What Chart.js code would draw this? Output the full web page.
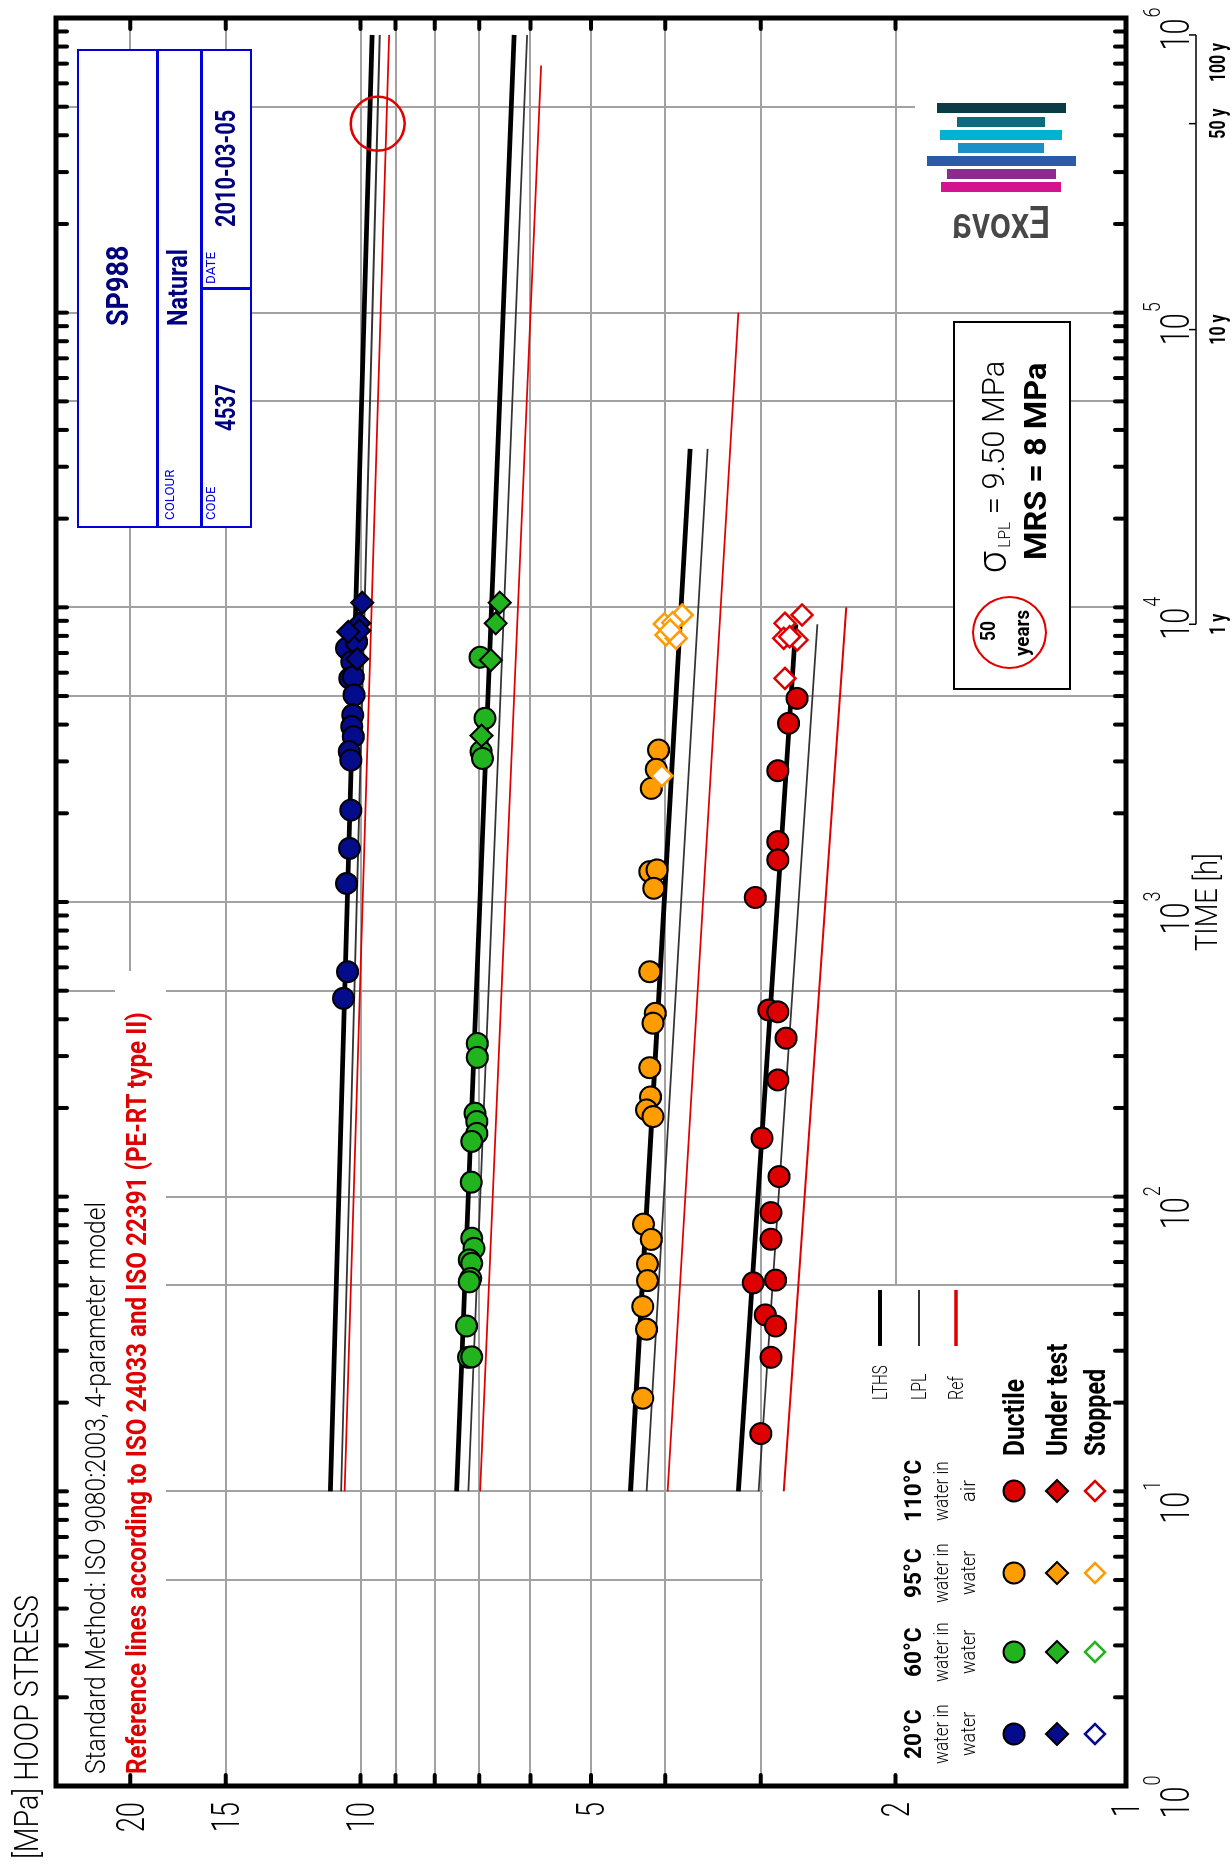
<!DOCTYPE html>
<html><head><meta charset="utf-8">
<script src="https://cdn.jsdelivr.net/npm/chart.js@4.4.1/dist/chart.umd.min.js"></script>
<style>
html,body{margin:0;padding:0;background:#fff;}
body{width:1232px;height:1866px;overflow:hidden;position:relative;font-family:Roboto,"Liberation Sans",sans-serif;}
#land{position:absolute;left:-317px;top:317px;width:1866px;height:1232px;transform:rotate(-90deg);transform-origin:50% 50%;}
#land canvas{position:absolute;left:0;top:0;}
.t{position:absolute;white-space:nowrap;line-height:1;}
.t span.in{display:inline-block;transform-origin:0 50%;}
.bx{position:absolute;box-sizing:border-box;background:#fff;}
.ln{position:absolute;}
</style></head>
<body>
<div id="land">
  <canvas id="c" width="1866" height="1232" style="width:1866px;height:1232px"></canvas>
  <div id="ov"></div>
</div>
<div id="logo"></div>
<script>
// ================= DATA =================
const temperatures = ['20°C','60°C','95°C','110°C'];
// 20 °C
const t20Ductile = [7260,7640,6540,5740,5810,5040,4310,3940,3640,3240,3030,2050,1520,1156,580,471];
const s20Ductile = [10.43,10.12,10.27,10.33,10.22,10.20,10.24,10.27,10.22,10.35,10.30,10.30,10.34,10.43,10.40,10.53];
const t20Under = [10370,8830,8340,8260,6680];
const s20Under = [9.95,10.04,10.04,10.38,10.10];
// 60 °C
const t60Ductile = [6770,4200,3240,3070,331,297,192,180,164,154,112,72.3,66.8,61.0,59.4,52.8,51.4,36.4,28.5,28.6];
const s60Ductile = [6.98,6.88,6.96,6.93,7.04,7.04,7.09,7.05,7.05,7.16,7.17,7.16,7.11,7.21,7.16,7.18,7.21,7.27,7.23,7.16];
const t60Under = [10370,8830,6620,3670];
const s60Under = [6.58,6.66,6.76,6.95];
// 95 °C
const t95Ductile = [3280,2820,2430,1268,1285,1113,580,419,388,274,218,197,187,80.7,71.6,59.1,51.9,42.4,35.5,20.7];
const s95Ductile = [4.08,4.11,4.17,4.19,4.10,4.14,4.19,4.12,4.15,4.19,4.18,4.23,4.15,4.27,4.17,4.22,4.22,4.28,4.23,4.28];
const t95Stopped = [9420,8780,8870,8060,7850,8370,2680];
const s95Stopped = [3.80,4.01,3.91,3.99,3.87,3.94,4.04];
// 110 °C
const t110Ductile = [4910,4040,2790,1603,1390,1036,430,424,345,249,158,117,88.3,71.7,51.0,52.1,39.7,36.4,28.5,15.7];
const s110Ductile = [2.69,2.76,2.85,2.85,2.85,3.05,2.93,2.85,2.78,2.85,2.99,2.84,2.91,2.91,3.07,2.87,2.96,2.87,2.91,3.00];
const t110Stopped = [8830,9420,7750,7850,7950,5740];
const s110Stopped = [2.79,2.65,2.69,2.80,2.75,2.79];
// Regression lines (end points)
const lthsT20=[10,876000], lthsS20=[10.95,9.66];
const lplT20=[10,876000],  lplS20=[10.60,9.44];
const refT20=[10,876000],  refS20=[10.49,9.18];
const lthsT60=[10,876000], lthsS60=[7.49,6.30];
const lplT60=[10,876000],  lplS60=[7.23,6.06];
const refT60=[10,690000],  refS60=[6.98,5.81];
const lthsT95=[10,34500],  lthsS95=[4.44,3.71];
const lplT95=[10,34500],   lplS95=[4.23,3.52];
const refT95=[10,100000],  refS95=[3.97,3.21];
const lthsT110=[10,8760],  lthsS110=[3.21,2.70];
const lplT110=[10,8760],   lplS110=[3.02,2.53];
const refT110=[10,10000],  refS110=[2.80,2.32];
// Axes
const timeGrid = [5,10,50,100,500,1000,5000,10000,50000,100000,500000];
const stressGrid = [2,3,4,5,6,7,8,9,10,15,20];
const stressTicks = [2,3,4,5,6,7,8,9,10,15,20];
const stressLabels = [1,2,5,10,15,20];
const timeExponents = [0,1,2,3,4,5,6];
const yearHours = [8760,87600,438000,876000];
const yearLabels = ['1 y','10 y','50 y','100 y'];
const lpl50Time = 438000, lpl50Stress = 9.50;

// ================= STYLE =================
const C_BLUE='#050c8c', C_GREEN='#22b41e', C_ORANGE='#ff9c00', C_RED='#dc0000';
const GRID='#a2a2a2';
const FONT='Roboto,"Liberation Sans",sans-serif';

function pts(T,S){return T.map((t,i)=>({x:t,y:S[i]}));}
function lineDs(T,S,color,w){return {type:'line',data:pts(T,S),borderColor:color,borderWidth:w,pointRadius:0,fill:false,tension:0,order:10};}
function circDs(T,S,fill){return {type:'scatter',data:pts(T,S),pointStyle:'circle',pointRadius:10.5,backgroundColor:fill,borderColor:'#000',borderWidth:2,order:2};}
function diaDs(T,S,fill){return {type:'scatter',data:pts(T,S),pointStyle:'rectRot',pointRadius:11,backgroundColor:fill,borderColor:'#000',borderWidth:2,order:1};}
function openDs(T,S,col){return {type:'scatter',data:pts(T,S),pointStyle:'rectRot',pointRadius:10.5,backgroundColor:'#fff',borderColor:col,borderWidth:2.5,order:0};}

const datasets=[
  lineDs(refT20,refS20,'#e00000',1.8), lineDs(lplT20,lplS20,'#333',1.8), lineDs(lthsT20,lthsS20,'#000',4.8),
  lineDs(refT60,refS60,'#e00000',1.8), lineDs(lplT60,lplS60,'#333',1.8), lineDs(lthsT60,lthsS60,'#000',4.8),
  lineDs(refT95,refS95,'#e00000',1.8), lineDs(lplT95,lplS95,'#333',1.8), lineDs(lthsT95,lthsS95,'#000',4.8),
  lineDs(refT110,refS110,'#e00000',1.8), lineDs(lplT110,lplS110,'#333',1.8), lineDs(lthsT110,lthsS110,'#000',4.8),
  circDs(t20Ductile,s20Ductile,C_BLUE), diaDs(t20Under,s20Under,C_BLUE),
  circDs(t60Ductile,s60Ductile,C_GREEN), diaDs(t60Under,s60Under,C_GREEN),
  circDs(t95Ductile,s95Ductile,C_ORANGE), openDs(t95Stopped,s95Stopped,C_ORANGE),
  circDs(t110Ductile,s110Ductile,C_RED), openDs(t110Stopped,s110Stopped,C_RED)
];

// white areas behind text blocks (landscape pixels)
const whiteBoxes=[[82,58,690,115],[82,115,895,166],[82,763,579,1124],[1615,915,1790,1124]];
const legendCols=[132,214,293,375];
const legendColors=[C_BLUE,C_GREEN,C_ORANGE,C_RED];

function ctext(ctx,s,x,cy,size,weight,k,align,color){
  ctx.save();ctx.font=weight+' '+size+'px '+FONT;ctx.fillStyle=color||'#000';
  ctx.textBaseline='alphabetic';ctx.textAlign='left';
  const w=ctx.measureText(s).width*k;
  const x0=align==='center'?x-w/2:align==='right'?x-w:x;
  ctx.translate(x0,cy+0.355*size);ctx.scale(k,1);ctx.fillText(s,0,0);ctx.restore();return w;
}
function cwidth(ctx,s,size,weight,k){ctx.save();ctx.font=weight+' '+size+'px '+FONT;const w=ctx.measureText(s).width*k;ctx.restore();return w;}
function circle(ctx,x,y,r,fill){ctx.beginPath();ctx.arc(x,y,r,0,Math.PI*2);ctx.fillStyle=fill;ctx.fill();ctx.lineWidth=2;ctx.strokeStyle='#000';ctx.stroke();}
function diamond(ctx,x,y,r,fill,stroke,lw){ctx.beginPath();ctx.moveTo(x-r,y);ctx.lineTo(x,y-r);ctx.lineTo(x+r,y);ctx.lineTo(x,y+r);ctx.closePath();ctx.fillStyle=fill;ctx.fill();ctx.lineWidth=lw;ctx.strokeStyle=stroke;ctx.stroke();}

const deco={
  id:'deco',
  beforeDatasetsDraw(chart){
    const ctx=chart.ctx,X=chart.scales.x,Y=chart.scales.y,a=chart.chartArea;
    ctx.save();ctx.strokeStyle=GRID;ctx.lineWidth=2;ctx.beginPath();
    timeGrid.forEach(t=>{const x=Math.round(X.getPixelForValue(t));ctx.moveTo(x,a.top);ctx.lineTo(x,a.bottom);});
    stressGrid.forEach(s=>{const y=Math.round(Y.getPixelForValue(s));
      const x0 = s===2 ? X.getPixelForValue(50) : a.left; ctx.moveTo(x0,y);ctx.lineTo(a.right,y);});
    ctx.stroke();
    ctx.fillStyle='#fff';whiteBoxes.forEach(b=>ctx.fillRect(b[0],b[1],b[2]-b[0],b[3]-b[1]));
    ctx.restore();
  },
  afterDatasetsDraw(chart){
    const ctx=chart.ctx,X=chart.scales.x,Y=chart.scales.y,a=chart.chartArea;
    ctx.save();
    // ticks
    ctx.strokeStyle='#000';ctx.lineWidth=4;ctx.lineCap='round';ctx.beginPath();
    for(let n=0;n<6;n++){for(let k=2;k<=10;k++){const t=k*Math.pow(10,n); if(t>=1e6)continue; const x=X.getPixelForValue(t);
      ctx.moveTo(x,a.top);ctx.lineTo(x,a.top+11);ctx.moveTo(x,a.bottom);ctx.lineTo(x,a.bottom-11);}}
    stressTicks.forEach(s=>{const y=Y.getPixelForValue(s);ctx.moveTo(a.left,y);ctx.lineTo(a.left+11,y);ctx.moveTo(a.right,y);ctx.lineTo(a.right-11,y);});
    ctx.stroke();
    // frame
    ctx.lineCap='butt';ctx.lineWidth=5;ctx.strokeRect(a.left,a.top,a.right-a.left,a.bottom-a.top);
    // stress labels
    stressLabels.forEach(s=>ctext(ctx,String(s),64,Y.getPixelForValue(s),38,300,0.72,'right'));
    // time labels 10^n
    timeExponents.forEach(e=>{const x=X.getPixelForValue(Math.pow(10,e));
      const w1=cwidth(ctx,'10',40,300,0.72),w2=cwidth(ctx,String(e),24,300,0.75);
      const x0=x-(w1+w2+1)/2-11;
      ctext(ctx,'10',x0,1175,40,300,0.72,'left');ctext(ctx,String(e),x0+w1+1,1151,24,300,0.75,'left');});
    // year axis
    ctx.lineWidth=1.5;ctx.beginPath();
    const xa=X.getPixelForValue(yearHours[0]),xb=X.getPixelForValue(yearHours[yearHours.length-1]);
    ctx.moveTo(xa,1196);ctx.lineTo(xb,1196);
    yearHours.forEach(t=>{const x=X.getPixelForValue(t);ctx.moveTo(x,1196);ctx.lineTo(x,1189);});
    ctx.stroke();
    yearHours.forEach((t,i)=>{const last=i===yearHours.length-1;
      ctext(ctx,yearLabels[i],X.getPixelForValue(t)-(last?8:0),1217,22,700,0.72,last?'right':'center');});
    // 50 year circle
    ctx.beginPath();ctx.arc(X.getPixelForValue(lpl50Time),Y.getPixelForValue(lpl50Stress),27,0,Math.PI*2);
    ctx.strokeStyle='#e00000';ctx.lineWidth=2.5;ctx.stroke();
    // legend markers
    legendCols.forEach((x,i)=>{circle(ctx,x,1014,10.5,legendColors[i]);diamond(ctx,x,1057,11,legendColors[i],'#000',2);diamond(ctx,x,1095,10,'#fff',legendColors[i],2.5);});
    // legend lines
    ctx.lineCap='butt';
    [[880,'#000',4],[919,'#333',2],[956,'#e00000',3.5]].forEach(l=>{ctx.beginPath();ctx.moveTo(520,l[0]);ctx.lineTo(576,l[0]);ctx.strokeStyle=l[1];ctx.lineWidth=l[2];ctx.stroke();});
    ctx.restore();
  }
};

new Chart(document.getElementById('c'),{
  type:'scatter',
  data:{datasets},
  options:{
    responsive:false,animation:false,devicePixelRatio:1,events:[],
    layout:{padding:{top:56,right:18,left:0,bottom:0}},
    plugins:{legend:{display:false},tooltip:{enabled:false}},
    scales:{
      x:{type:'logarithmic',min:1,max:1e6,grid:{display:false},border:{display:false},ticks:{display:false},afterFit(s){s.height=106;}},
      y:{type:'logarithmic',min:1,max:25,grid:{display:false},border:{display:false},ticks:{display:false},afterFit(s){s.width=80;}}
    }
  },
  plugins:[deco]
});

// ================= HTML OVERLAYS (landscape) =================
const ov=document.getElementById('ov');
function txt(parent,s,o){
  const d=document.createElement('div');d.className='t';
  d.style.fontSize=o.size+'px';d.style.fontWeight=o.weight||300;d.style.color=o.color||'#000';
  d.style.top=(o.y-o.size/2)+'px';d.style.fontFamily=FONT;
  const sp=document.createElement('span');sp.className='in';
  if(o.html)sp.innerHTML=s;else sp.textContent=s;
  d.appendChild(sp);parent.appendChild(d);
  const nat=sp.offsetWidth;
  const k=o.w?o.w/nat:(o.k||0.8);const w=nat*k;
  sp.style.transform='scaleX('+(o.mirror?-k:k)+')';
  if(o.mirror)sp.style.transformOrigin='50% 50%';
  let left=o.align==='center'?o.x-w/2:o.align==='right'?o.x-w:o.x;
  if(o.mirror)left=o.x-nat/2;
  d.style.left=left+'px';return d;
}
function box(parent,x0,y0,x1,y1,border){const d=document.createElement('div');d.className='bx';
  d.style.left=x0+'px';d.style.top=y0+'px';d.style.width=(x1-x0)+'px';d.style.height=(y1-y0)+'px';d.style.border=border;parent.appendChild(d);return d;}
function rect(parent,x0,y0,w,h,col){const d=document.createElement('div');d.className='ln';
  d.style.left=x0+'px';d.style.top=y0+'px';d.style.width=w+'px';d.style.height=h+'px';d.style.background=col;parent.appendChild(d);return d;}

txt(ov,'[MPa] HOOP STRESS',{x:7,y:26,size:34,weight:300,w:264});
txt(ov,'Standard Method: ISO 9080:2003, 4-parameter model',{x:92,y:96,size:27,weight:300,w:572});
txt(ov,'Reference lines according to ISO 24033 and ISO 22391 (PE-RT type II)',{x:92,y:137,size:27,weight:700,w:762,color:'#e00000'});
txt(ov,'TIME [h]',{x:964,y:1206,size:31,weight:300,w:98,align:'center'});
// legend
const hdrW=[50,50,50,62];
temperatures.forEach((tp,i)=>{
  txt(ov,tp,{x:legendCols[i],y:913,size:24,weight:700,w:hdrW[i],align:'center'});
  txt(ov,'water in',{x:legendCols[i],y:941,size:20,weight:300,w:60,align:'center'});
  txt(ov,i===3?'air':'water',{x:legendCols[i],y:968,size:20,weight:300,w:i===3?22:44,align:'center'});
});
txt(ov,'Ductile',{x:410,y:1014,size:29,weight:700,w:77});
txt(ov,'Under test',{x:410,y:1057,size:29,weight:700,w:112});
txt(ov,'Stopped',{x:410,y:1095,size:29,weight:700,w:87});
txt(ov,'LTHS',{x:466,y:880,size:20,weight:300,w:35});
txt(ov,'LPL',{x:466,y:919,size:20,weight:300,w:26});
txt(ov,'Ref',{x:466,y:956,size:20,weight:300,w:24});
// info box
const BLUE_B='#0000d8',NAVY='#00007e';
box(ov,1338,77,1817,252,'2.5px solid '+BLUE_B);
rect(ov,1338,156,479,2.5,BLUE_B);rect(ov,1338,200,479,2.5,BLUE_B);rect(ov,1576,200,2.5,52,BLUE_B);
txt(ov,'SP988',{x:1580,y:117,size:32,weight:700,w:80,align:'center',color:NAVY});
txt(ov,'COLOUR',{x:1346,y:169,size:13,weight:400,w:50,color:BLUE_B});
txt(ov,'Natural',{x:1578,y:178,size:27,weight:700,w:77,align:'center',color:NAVY});
txt(ov,'CODE',{x:1346,y:210,size:13,weight:400,w:33,color:BLUE_B});
txt(ov,'4537',{x:1458,y:226,size:27,weight:700,w:47,align:'center',color:NAVY});
txt(ov,'DATE',{x:1582,y:210,size:13,weight:400,w:32,color:BLUE_B});
txt(ov,'2010-03-05',{x:1697,y:226,size:27,weight:700,w:117,align:'center',color:NAVY});
// MRS box
box(ov,1176,953,1545,1071,'2.5px solid #000');
const cir=document.createElement('div');cir.className='bx';
Object.assign(cir.style,{left:'1197px',top:'972px',width:'73px',height:'75px',border:'2.5px solid #e00000',borderRadius:'50%',background:'transparent'});ov.appendChild(cir);
txt(ov,'50',{x:1235,y:988,size:20,weight:700,w:20,align:'center'});
txt(ov,'years',{x:1233,y:1022,size:20,weight:700,w:46,align:'center'});
txt(ov,'<span style="font-size:40px;vertical-align:-2px">σ</span><span style="font-size:16px;vertical-align:-6px">&nbsp;LPL</span> = 9.50 MPa',{x:1293,y:989,size:32,weight:300,w:212,html:true});
txt(ov,'MRS = 8 MPa',{x:1306,y:1035,size:32,weight:700,w:197});

// ================= LOGO (portrait) =================
const lg=document.getElementById('logo');
lg.style.position='absolute';lg.style.left='0';lg.style.top='0';
const stripes=[[937,103,1066,'#0b3b44'],[957,117,1045,'#0d6b7e'],[940,130,1062,'#00b2cf'],[958,143,1044,'#1b8fc6'],[927,156,1076,'#2b5ba8'],[947,169,1056,'#8b2b8c'],[941,182,1061,'#d4148e']];
stripes.forEach(s=>rect(lg,s[0],s[1],s[2]-s[0],10,s[3]));
txt(lg,'Exova',{x:1001,y:223,size:44,weight:500,color:'#474747',k:0.85,mirror:true});
</script>
</body></html>
